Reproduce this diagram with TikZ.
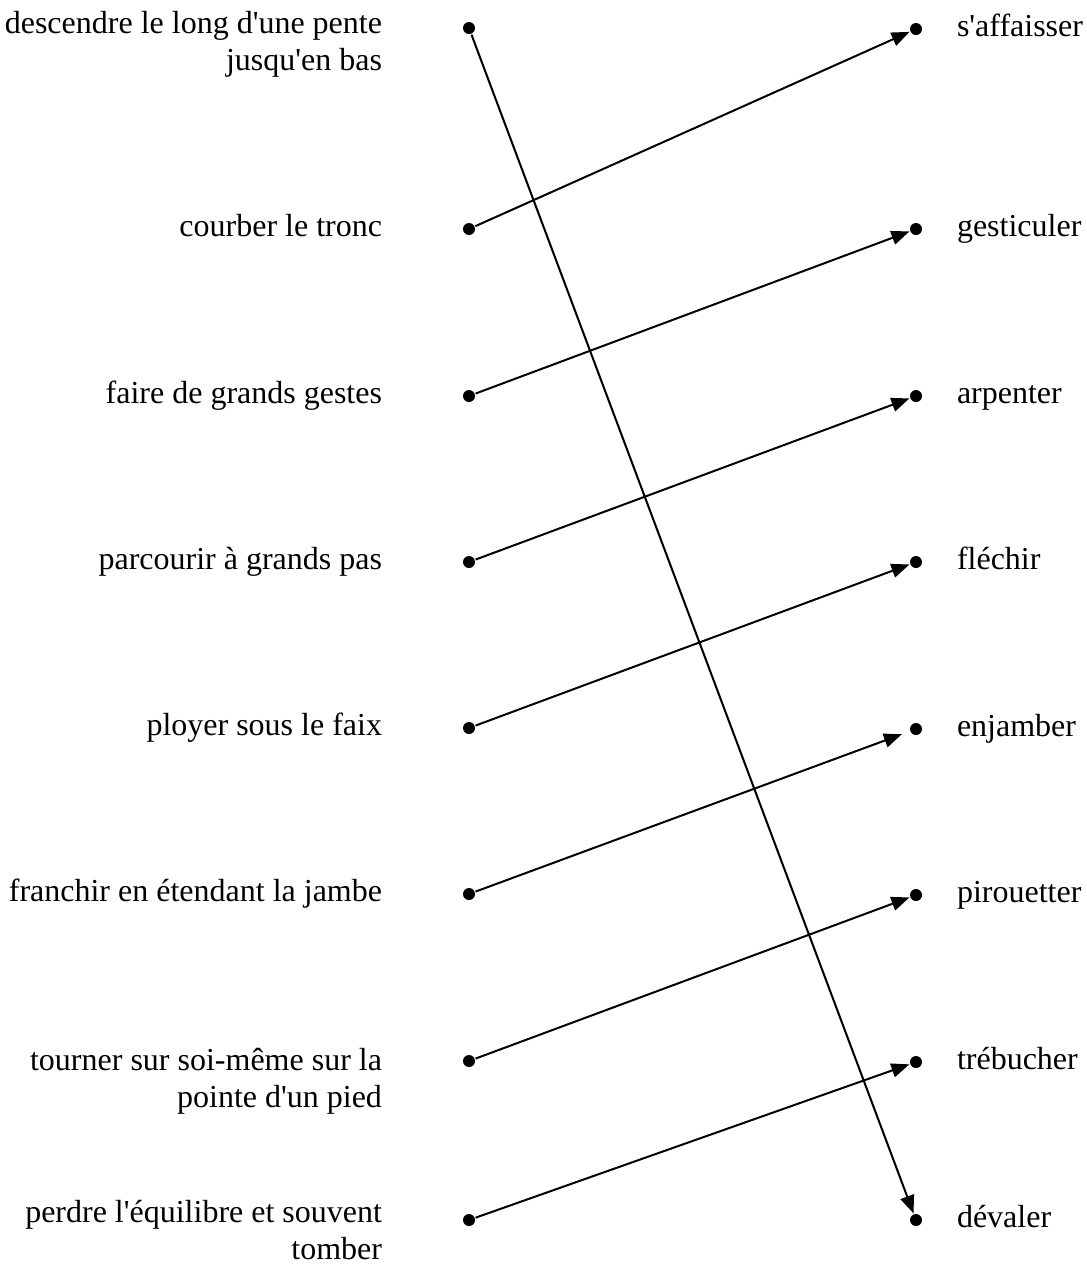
\documentclass[tikz,border=0pt]{standalone}
\usepackage{fontspec}
\setmainfont{Liberation Serif}
\usetikzlibrary{arrows.meta}
\begin{document}
\begin{tikzpicture}[x=0.5pt, y=-0.5pt, line width=1pt,
    dot/.style={circle, fill, inner sep=0pt, minimum size=6pt},
    lab/.style={font=\fontsize{16}{18.5}\selectfont, inner sep=0pt},
    llab/.style={lab, anchor=base east, align=right},
    rlab/.style={lab, anchor=base west},
    link/.style={-{Triangle[length=9pt,width=7pt]}}]
        \useasboundingbox (0,0) rectangle (1087,1265);

        % Define the dots
        \node[dot] (l1) at (469,28) {};
        \node[dot] (l2) at (469,229) {};
        \node[dot] (l3) at (469,396) {};
        \node[dot] (l4) at (469,562) {};
        \node[dot] (l5) at (469,728) {};
        \node[dot] (l6) at (469,894) {};
        \node[dot] (l7) at (469,1061) {};
        \node[dot] (l8) at (469,1220) {};

        \node[dot] (r1) at (916,29) {};
        \node[dot] (r2) at (916,229) {};
        \node[dot] (r3) at (916,396) {};
        \node[dot] (r4) at (916,562) {};
        \node[dot] (r5) at (916,729) {};
        \node[dot] (r6) at (916,895) {};
        \node[dot] (r7) at (916,1062) {};
        \node[dot] (r8) at (916,1220) {};

        % Define the labels (base of a two-line label is its last line)
        \node[llab] (descendre) at (383,70) {descendre le long d\textquotesingle une pente\\jusqu\textquotesingle en bas};
        \node[llab] (courber) at (383,236) {courber le tronc};
        \node[llab] (gestes) at (383,403) {faire de grands gestes};
        \node[llab] (parcourir) at (383,569) {parcourir à grands pas};
        \node[llab] (ployer) at (383,735) {ployer sous le faix};
        \node[llab] (franchir) at (383,901) {franchir en étendant la jambe};
        \node[llab] (tourner) at (383,1107) {tourner sur soi-même sur la\\pointe d\textquotesingle un pied};
        \node[llab] (perdre) at (383,1259) {perdre l\textquotesingle équilibre et souvent\\tomber};

        \node[rlab] (affaisser) at (956,36) {s\textquotesingle affaisser};
        \node[rlab] (gesticuler) at (956,236) {gesticuler};
        \node[rlab] (arpenter) at (956,403) {arpenter};
        \node[rlab] (flechir) at (956,569) {fléchir};
        \node[rlab] (enjamber) at (956,736) {enjamber};
        \node[rlab] (pirouetter) at (956,902) {pirouetter};
        \node[rlab] (trebucher) at (956,1069) {trébucher};
        \node[rlab] (devaler) at (956,1227) {dévaler};

        % Draw the arrows
        \draw[link] (l1) -- (r8);
        \draw[link] (l2) -- (r1);
        \draw[link] (l3) -- (r2);
        \draw[link] (l4) -- (r3);
        \draw[link] (l5) -- (r4);
        \draw[link, shorten >=4pt] (l6) -- (r5);
        \draw[link] (l7) -- (r6);
        \draw[link] (l8) -- (r7);
    \end{tikzpicture}
\end{document}
